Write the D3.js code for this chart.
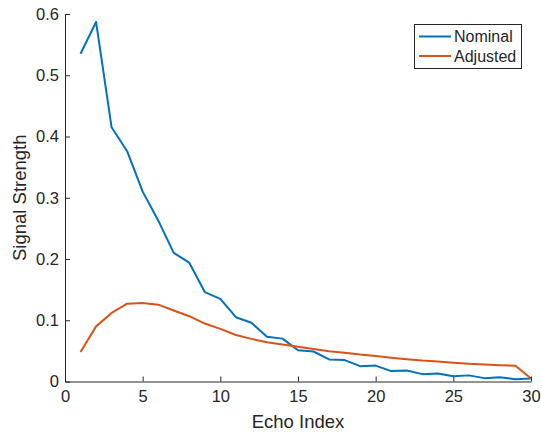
<!DOCTYPE html>
<html>
<head>
<meta charset="utf-8">
<script src="https://cdn.jsdelivr.net/npm/d3@7"></script>
<style>
    body { margin: 0; background: #fff; }
    text { font-family: "Liberation Sans", Arial, Helvetica, sans-serif; fill: #262626; }
</style>
</head>
<body>
<div id="chart"></div>
<script>
"use strict";

// Echo index 1..30
const echoIndex = d3.range(1, 31);

const nominal = [0.535, 0.587, 0.415, 0.376, 0.310, 0.263, 0.210, 0.194, 0.146, 0.135,
                 0.105, 0.096, 0.073, 0.070, 0.051, 0.049, 0.036, 0.035, 0.025, 0.026,
                 0.017, 0.018, 0.012, 0.013, 0.0087, 0.010, 0.0055, 0.007, 0.0038, 0.005];

const adjusted = [0.048, 0.090, 0.112, 0.127, 0.128, 0.1255, 0.116, 0.1066, 0.0946, 0.086,
                  0.076, 0.0696, 0.064, 0.0605, 0.0566, 0.053, 0.0495, 0.047, 0.044, 0.0416,
                  0.0388, 0.0364, 0.0342, 0.0326, 0.0305, 0.0288, 0.0277, 0.0266, 0.0256, 0.005];

const xTicks = [0, 5, 10, 15, 20, 25, 30];
const yTicks = [0, 0.1, 0.2, 0.3, 0.4, 0.5, 0.6];

const seriesNames = ['Nominal', 'Adjusted'];
const seriesColors = ['#0072BD', '#D95319'];

const width = 541, height = 432;
const margin = {left: 65, right: 10, top: 14, bottom: 50.5};

const svg = d3.select('#chart').append('svg')
    .attr('width', width)
    .attr('height', height);

const x = d3.scaleLinear().domain([0, 30]).range([margin.left, width - margin.right]);
const y = d3.scaleLinear().domain([0, 0.6]).range([height - margin.bottom, margin.top]);

// Axes (MATLAB style: ticks inside, no box)
const xAxis = svg.append('g')
    .attr('transform', `translate(0,${y(0)})`)
    .call(d3.axisBottom(x).tickValues(xTicks).tickSizeInner(-5).tickSizeOuter(0).tickPadding(9));
const yAxis = svg.append('g')
    .attr('transform', `translate(${x(0)},0)`)
    .call(d3.axisLeft(y).tickValues(yTicks).tickSizeInner(-5).tickSizeOuter(0).tickPadding(6)
        .tickFormat(d => d === 0 ? '0' : d3.format('.1f')(d)));

[xAxis, yAxis].forEach(g => {
    g.select('.domain').attr('stroke', '#262626').attr('stroke-width', 1);
    g.selectAll('.tick line').attr('stroke', '#262626');
    g.selectAll('.tick text').attr('font-size', 16.5).attr('fill', '#262626')
        .style('font-family', '"Liberation Sans", Arial, sans-serif');
});

// Axis labels
svg.append('text')
    .attr('x', (x(0) + x(30)) / 2)
    .attr('y', 428)
    .attr('text-anchor', 'middle')
    .attr('font-size', 18.5)
    .text('Echo Index');

svg.append('text')
    .attr('transform', `translate(26,${(y(0) + y(0.6)) / 2}) rotate(-90)`)
    .attr('text-anchor', 'middle')
    .attr('font-size', 18.5)
    .text('Signal Strength');

// Lines
const line = d3.line()
    .x((d, i) => x(echoIndex[i]))
    .y(d => y(d));

[nominal, adjusted].forEach((s, i) => {
    svg.append('path')
        .datum(s)
        .attr('fill', 'none')
        .attr('stroke', seriesColors[i])
        .attr('stroke-width', 2)
        .attr('stroke-linejoin', 'round')
        .attr('d', line);
});

// Legend
const legend = svg.append('g').attr('transform', 'translate(414,24)');
legend.append('rect')
    .attr('x', 0.5).attr('y', 0.5)
    .attr('width', 107).attr('height', 44)
    .attr('fill', '#fff')
    .attr('stroke', '#262626')
    .attr('stroke-width', 1);
seriesNames.forEach((name, i) => {
    const ly = 12.5 + i * 19.5;
    legend.append('line')
        .attr('x1', 5).attr('x2', 37)
        .attr('y1', ly).attr('y2', ly)
        .attr('stroke', seriesColors[i])
        .attr('stroke-width', 2);
    legend.append('text')
        .attr('x', 40).attr('y', ly)
        .attr('dy', '0.35em')
        .attr('font-size', 16)
        .text(name);
});
</script>
</body>
</html>
